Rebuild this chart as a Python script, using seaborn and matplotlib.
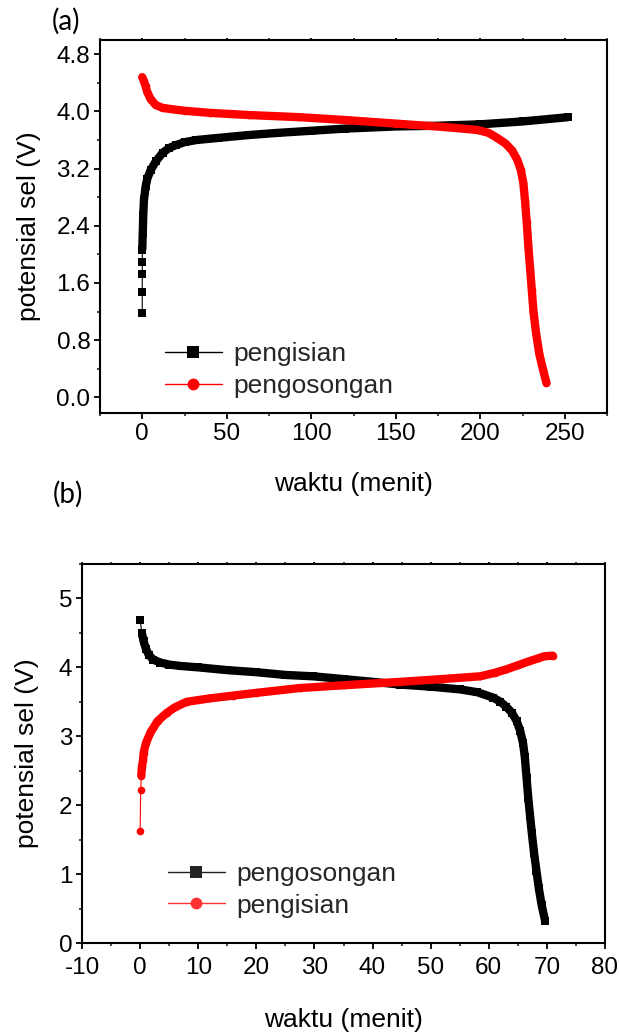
import numpy as np
import pandas as pd
import matplotlib
matplotlib.use("Agg")
import matplotlib.pyplot as plt
from matplotlib.lines import Line2D
from matplotlib.ticker import MultipleLocator
import seaborn as sns

# ---------------- data: panel (a) ----------------
a_charge_t = [0, 0, 0, 0, 0, 0.3, 0.6, 1, 2, 3, 5, 8, 12, 16, 20, 25, 32, 45, 63, 80,
              100, 120, 150, 175, 200, 225, 252]
a_charge_v = [1.18, 1.48, 1.72, 1.90, 2.06, 2.30, 2.55, 2.76, 2.95, 3.06, 3.18, 3.30, 3.42,
              3.49, 3.53, 3.57, 3.60, 3.63, 3.67, 3.70, 3.73, 3.76, 3.79, 3.80, 3.82, 3.86, 3.92]
a_dis_t = [0, 1, 2, 3, 5, 8, 12, 18, 25, 40, 63, 93, 120, 150, 180, 198.6, 205, 210, 215,
           219, 222, 224, 225.5, 226.5, 227.5, 228.5, 229.5, 230.5, 231.5, 233, 235, 237, 239.2]
a_dis_v = [4.48, 4.42, 4.35, 4.27, 4.17, 4.09, 4.05, 4.03, 4.01, 3.98, 3.95, 3.92, 3.88,
           3.83, 3.78, 3.74, 3.70, 3.63, 3.55, 3.45, 3.32, 3.18, 3.00, 2.75, 2.45, 2.10,
           1.80, 1.50, 1.20, 0.90, 0.60, 0.40, 0.20]
a_labels = ["pengisian", "pengosongan"]

# ---------------- data: panel (b) ----------------
b_dis_t = [0, 0.3, 0.6, 1, 1.5, 2.3, 3.5, 5, 7, 10, 15, 20, 25, 29.8, 35, 40, 44.8, 50,
           55.1, 58, 60.8, 62, 63, 64, 64.8, 65.4, 65.9, 66.2, 66.5, 66.8, 67.1, 67.4,
           67.8, 68.2, 68.6, 69.1, 69.7]
b_dis_v = [4.69, 4.50, 4.38, 4.27, 4.18, 4.11, 4.07, 4.04, 4.02, 4.00, 3.96, 3.93, 3.89,
           3.87, 3.83, 3.79, 3.75, 3.72, 3.68, 3.64, 3.56, 3.50, 3.43, 3.34, 3.22, 3.08,
           2.90, 2.70, 2.40, 2.10, 1.85, 1.60, 1.30, 1.05, 0.80, 0.55, 0.32]
b_charge_t = [0, 0.1, 0.2, 0.3, 0.5, 0.6, 1, 1.75, 3, 4.6, 6, 8, 12, 16, 20, 27.5, 35,
              44.8, 52, 58.5, 61, 63, 65, 67, 68.5, 69.5, 71]
b_charge_v = [1.62, 2.22, 2.43, 2.55, 2.65, 2.76, 2.90, 3.05, 3.22, 3.34, 3.42, 3.50, 3.55,
              3.59, 3.63, 3.70, 3.74, 3.79, 3.83, 3.87, 3.92, 3.97, 4.03, 4.09, 4.13, 4.16, 4.17]
b_labels = ["pengosongan", "pengisian"]

xlabel = "waktu (menit)"
ylabel = "potensial sel (V)"

# ---------------- style ----------------
sns.set_theme(style="ticks")
plt.rcParams["font.family"] = ["Liberation Sans", "DejaVu Sans"]
plt.rcParams["axes.linewidth"] = 1.5
plt.rcParams["axes.unicode_minus"] = False

BLACK = "#000000"
RED = "#ff0000"
BAND = 6.0   # pt width of dense marker band
MS = 5.5

fig = plt.figure(figsize=(6.19, 10.34), dpi=100)
ax1 = fig.add_axes([100 / 619, 1 - 413 / 1034, 507 / 619, 373 / 1034])
ax2 = fig.add_axes([82 / 619, 1 - 943 / 1034, 523 / 619, 379 / 1034])


def draw_series(ax, t, v, color, marker, n_sparse, cap):
    df = pd.DataFrame({"t": t, "v": v})
    sns.lineplot(data=df, x="t", y="v", ax=ax, color=color, lw=0.8, marker=marker,
                 markersize=MS, markeredgewidth=0, sort=False, estimator=None)
    dense = df.iloc[n_sparse:]
    sns.lineplot(data=dense, x="t", y="v", ax=ax, color=color, lw=BAND, sort=False,
                 estimator=None, solid_capstyle=cap, solid_joinstyle="round")


def style_axes(ax, xlim, ylim, xmaj, xmin, ymaj, ymin, yfmt, xpad):
    ax.set_xlim(*xlim)
    ax.set_ylim(*ylim)
    ax.xaxis.set_major_locator(MultipleLocator(xmaj))
    ax.xaxis.set_minor_locator(MultipleLocator(xmin))
    ax.yaxis.set_major_locator(MultipleLocator(ymaj))
    ax.yaxis.set_minor_locator(MultipleLocator(ymin))
    ax.yaxis.set_major_formatter(yfmt)
    for s in ax.spines.values():
        s.set_visible(True)
        s.set_linewidth(1.5)
        s.set_color("black")
    ax.tick_params(which="major", direction="out", length=4, width=1.3, labelsize=17.5,
                   colors="black", pad=3)
    ax.tick_params(which="minor", direction="out", length=2.5, width=1.2)
    ax.tick_params(axis="x", which="major", pad=xpad)
    ax.xaxis.set_tick_params(which="both", top=True, labeltop=False)
    for tk in ax.xaxis.get_major_ticks() + ax.xaxis.get_minor_ticks():
        tk.tick2line.set_markersize(1.5)
    ax.set_facecolor("white")
    ax.grid(False)


draw_series(ax1, a_charge_t, a_charge_v, BLACK, "s", 4, "butt")
draw_series(ax1, a_dis_t, a_dis_v, RED, "o", 0, "round")
style_axes(ax1, (-25, 275), (-0.22, 5.0), 50, 25, 0.8, 0.4, "{x:.1f}", 3)
ax1.set_xlabel(xlabel, fontsize=19, labelpad=20, color="black")
ax1.set_ylabel(ylabel, fontsize=19, labelpad=11, color="black")

draw_series(ax2, b_dis_t, b_dis_v, BLACK, "s", 1, "butt")
draw_series(ax2, b_charge_t, b_charge_v, RED, "o", 2, "round")
style_axes(ax2, (-10, 80), (0, 5.5), 10, 5, 1, 0.5, "{x:.0f}", 6)
ax2.set_xlabel(xlabel, fontsize=19, labelpad=21, color="black")
ax2.set_ylabel(ylabel, fontsize=19, labelpad=14, color="black")


def make_legend(ax, labels, colors, markers, anchor):
    handles = [Line2D([0], [0], color=c, lw=1.0, marker=m, markersize=8.5,
                      markeredgewidth=0) for c, m in zip(colors, markers)]
    leg = ax.legend(handles, labels, loc="center left", bbox_to_anchor=anchor,
                    frameon=False, fontsize=19, handlelength=2.15, handletextpad=0.45,
                    labelspacing=0.28, borderpad=0, borderaxespad=0, numpoints=1)
    return leg


make_legend(ax1, a_labels, [BLACK, RED], ["s", "o"], (0.128, 0.115))
make_legend(ax2, b_labels, ["#222222", "#ff3333"], ["s", "o"], (0.164, 0.14))

fig.text(52 / 619, 1 - 21 / 1034, "(a)", fontsize=20, family=["Lato", "DejaVu Sans"],
         ha="left", va="center", color="black")
fig.text(53 / 619, 1 - 494 / 1034, "(b)", fontsize=20, family=["Lato", "DejaVu Sans"],
         ha="left", va="center", color="black")

fig.savefig("out.png", dpi=100, facecolor="white")
